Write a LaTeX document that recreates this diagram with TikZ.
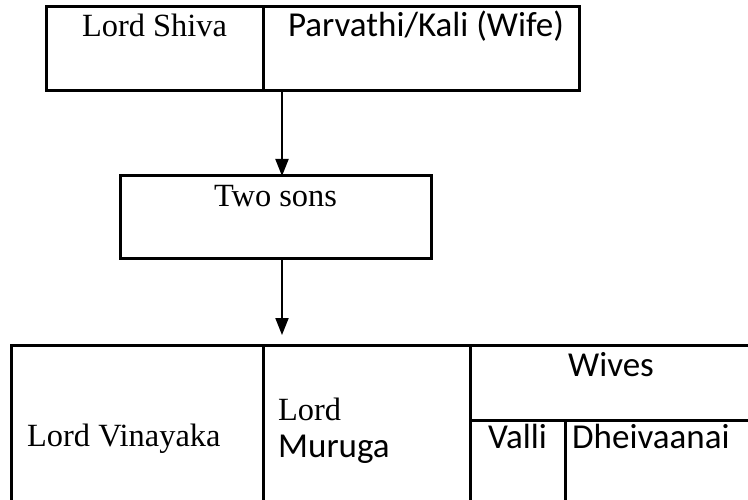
\documentclass[tikz,border=0pt]{standalone}
\usepackage{fontspec}
\setmainfont{Liberation Serif}
\newfontfamily\calibfont{Carlito}
\usepackage{tikz}
\usetikzlibrary{positioning,arrows.meta}

\begin{document}
\begin{tikzpicture}[x=1pt, y=-1pt,
  cell/.style={draw=black, line width=3pt, inner sep=0pt, outer sep=0pt},
  seriftxt/.style={font=\fontsize{32.4}{38}\selectfont, inner sep=0pt, anchor=base},
  sanstxt/.style={font=\calibfont\fontsize{35}{42}\selectfont, inner sep=0pt, anchor=base},
  arrowline/.style={line width=2pt, -{Triangle[width=13pt,length=17pt]}},
]
\useasboundingbox (0,0) rectangle (748,500);
\clip (0,0) rectangle (748,500);

% Top box: parents
\node[cell, minimum width=217pt, minimum height=84pt] (shiva) at (154.5,49) {};
\node[cell, minimum width=316pt, minimum height=84pt] (parv) at (421,49) {};
\node[seriftxt] (shivatxt) at (154.5,37) {Lord Shiva};
\node[sanstxt] (parvtxt) at (426,37) {Parvathi/Kali (Wife)};

% Middle box
\node[cell, minimum width=311pt, minimum height=83pt] (sons) at (275.5,217.5) {};
\node[seriftxt] (sonstxt) at (275.5,207) {Two sons};

% Bottom table (runs past the right and lower edges)
\node[cell, minimum width=252pt, minimum height=175pt] (vin) at (137,432.5) {};
\node[cell, minimum width=207pt, minimum height=175pt] (mur) at (366.5,432.5) {};
\node[cell, minimum width=282pt, minimum height=75pt] (wives) at (611,382.5) {};
\node[cell, minimum width=95pt, minimum height=100pt] (valli) at (517.5,470) {};
\node[cell, minimum width=187pt, minimum height=100pt] (dhei) at (658.5,470) {};
\node[seriftxt, anchor=base west] (vintxt) at (27,446) {Lord Vinayaka};
\node[seriftxt, anchor=base west] (lordtxt) at (278,420) {Lord};
\node[sanstxt, anchor=base west] (murtxt) at (278,457) {Muruga};
\node[sanstxt] (wivestxt) at (611,376) {Wives};
\node[sanstxt] (vallitxt) at (517.5,448) {Valli};
\node[sanstxt, anchor=base west] (dheitxt) at (572,448) {Dheivaanai};

% Connectors
\coordinate (gap) at ([yshift=10pt]vin.north);
\draw[arrowline] ([xshift=19pt]parv.south west) -- ([xshift=19pt]parv.south west |- sons.north);
\draw[arrowline] ([xshift=6.5pt]sons.south) -- ([xshift=6.5pt]sons.south |- gap);
\end{tikzpicture}
\end{document}
